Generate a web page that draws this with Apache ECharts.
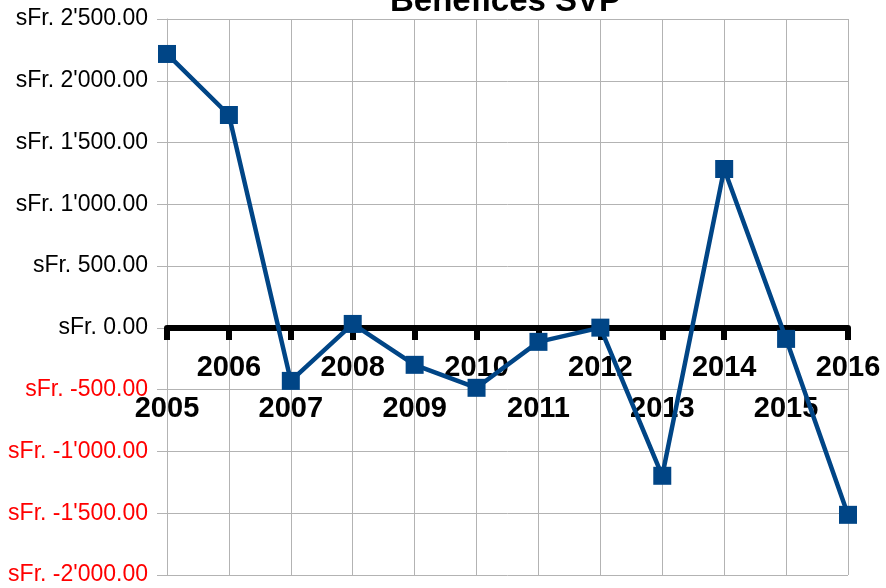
<!DOCTYPE html>
<html>
<head>
<meta charset="utf-8">
<script src="https://cdn.jsdelivr.net/npm/echarts@6/dist/echarts.min.js"></script>
<style>
  html, body { margin: 0; padding: 0; background: #fff; }
  #chart { width: 886px; height: 588px; }
</style>
</head>
<body>
<div id="chart"></div>
<script>
var years = ['2005', '2006', '2007', '2008', '2009', '2010', '2011', '2012', '2013', '2014', '2015', '2016'];
var benefices = [2217, 1723, -429, 32, -299, -485, -113, 2, -1197, 1286, -89, -1513];
var yMin = -2000, yMax = 2500, yStep = 500;

// sFr. 2'500.00
function chf(v) {
    var parts = Math.abs(v).toFixed(2).split('.');
    var ent = parts[0].replace(/\B(?=(\d{3})+(?!\d))/g, "'");
    return 'sFr. ' + (v < 0 ? '-' : '') + ent + '.' + parts[1];
}

var W = 886, H = 588;
var gTop = 19, gBottom = 13;
// the year axis sits on zero, labels included
var zeroOffset = -(H - gTop - gBottom) * (0 - yMin) / (yMax - yMin);

var chart = echarts.init(document.getElementById('chart'));
var gris = '#b3b3b3';

chart.setOption({
    animation: false,
    title: {
        text: 'Bénéfices SVP',
        left: 385,
        top: -20,
        textStyle: { fontFamily: 'Liberation Sans', fontSize: 33, fontWeight: 'bold', color: '#000' }
    },
    grid: { left: 167, right: 38, top: gTop, bottom: gBottom, containLabel: false, outerBoundsMode: 'none' },
    xAxis: {
        type: 'category',
        data: years,
        boundaryGap: false,
        position: 'bottom',
        offset: zeroOffset,
        axisLine: { onZero: false, lineStyle: { color: '#000', width: 6 } },
        axisTick: { length: 12, lineStyle: { color: '#000', width: 6 } },
        splitLine: { show: true, lineStyle: { color: gris, width: 1 } },
        axisLabel: {
            interval: 0,
            margin: 20,
            fontFamily: 'Liberation Sans',
            fontSize: 29,
            fontWeight: 'bold',
            color: '#000',
            lineHeight: 41,
            formatter: function (v, i) {
                return i % 2 === 0 ? '\n' + v : v;
            }
        }
    },
    yAxis: {
        type: 'value',
        min: yMin,
        max: yMax,
        interval: yStep,
        axisLine: { show: true, lineStyle: { color: gris, width: 1 } },
        axisTick: { show: true, length: 10, lineStyle: { color: gris } },
        splitLine: { show: true, lineStyle: { color: gris, width: 1 } },
        axisLabel: {
            margin: 19,
            fontFamily: 'Liberation Sans',
            fontSize: 23,
            color: function (v) { return Number(v) < 0 ? '#ff0000' : '#000'; },
            formatter: chf
        }
    },
    series: [{
        type: 'line',
        data: benefices,
        symbol: 'rect',
        symbolSize: 18,
        lineStyle: { color: '#004586', width: 4.5 },
        itemStyle: { color: '#004586' }
    }]
});
</script>
</body>
</html>
